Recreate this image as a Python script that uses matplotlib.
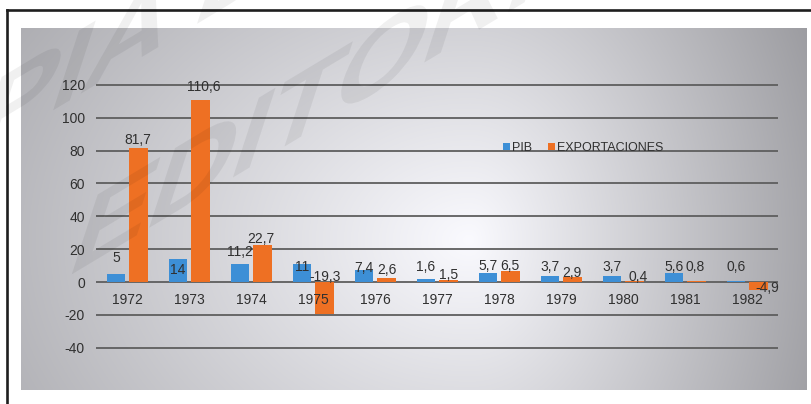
import numpy as np
import matplotlib
matplotlib.use("Agg")
import matplotlib.pyplot as plt
from matplotlib.patches import Patch, PathPatch
from matplotlib.lines import Line2D
from matplotlib.textpath import TextPath
from matplotlib.font_manager import FontProperties
from matplotlib.transforms import Affine2D, IdentityTransform

# ---- data ----
years = ["1972", "1973", "1974", "1975", "1976", "1977",
         "1978", "1979", "1980", "1981", "1982"]
pib = [5, 14, 11.2, 11, 7.4, 1.6, 5.7, 3.7, 3.7, 5.6, 0.6]
exportaciones = [81.7, 110.6, 22.7, -19.3, 2.6, 1.5, 6.5, 2.9, 0.4, 0.8, -4.9]
y_ticks = [-40, -20, 0, 20, 40, 60, 80, 100, 120]

# data-label anchor heights (axis units) and small horizontal nudges
pib_label_y = [14.6, 7.3, 18.5, 9.0, 8.5, 9.3, 9.7, 9.3, 9.3, 9.3, 9.3]
exp_label_y = [86.5, 119.0, 26.2, 3.2, 7.3, 4.3, 9.7, 5.7, 3.2, 9.3, -3.8]
exp_label_dx = [-0.02, 0.05, -0.03, 0.0, 0.01, -0.01, -0.01, -0.02, 0.05, -0.03, 0.14]

W, H = 811, 404
BLUE = "#3d8fd6"
ORANGE = "#ee7023"
TXT = "#303030"
FONT = "Liberation Sans"
FS = 10

plt.rcParams["font.family"] = [FONT, "DejaVu Sans"]

fig = plt.figure(figsize=(W / 100, H / 100), dpi=100)
fig.patch.set_facecolor("white")


def fr(x0, y0_top, x1, y1_top):
    """pixel box (top-left origin) -> figure fraction rect"""
    return [x0 / W, (H - y1_top) / H, (x1 - x0) / W, (y1_top - y0_top) / H]


# ---- gradient panel ----
px0, py0, px1, py1 = 21, 28, 807, 390
bg = fig.add_axes(fr(px0, py0, px1, py1))
xs = np.arange(px0, px1) + 0.5
ys = np.arange(py0, py1) + 0.5
X, Y = np.meshgrid(xs, ys)
cx, cy = 470.0, 240.0
dx = X - cx
rx = np.where(dx < 0, 560.0, 320.0)
t = np.sqrt((dx / rx) ** 2 + ((Y - cy) / 420.0) ** 2)
c = np.clip(250 - 80 * t, 155, 252) / 255.0
img = np.dstack([c, c, np.clip(c + 0.018, 0, 1)])
bg.imshow(img, aspect="auto", interpolation="bilinear")
bg.set_axis_off()

# ---- main chart axes ----
ppu = 1.642  # pixels per axis unit
y_zero = 282.0
ymin, ymax = -42, 122
ax = fig.add_axes(fr(96, y_zero - ymax * ppu, 778, y_zero - ymin * ppu))
ax.set_facecolor("none")
ax.set_xlim(-0.5, len(years) - 0.5)
ax.set_ylim(ymin, ymax)
for s in ax.spines.values():
    s.set_visible(False)
ax.set_yticks(y_ticks)
ax.set_yticklabels([str(v) for v in y_ticks])
ax.grid(axis="y", color="#5e5e5e", linewidth=1.3)
ax.set_axisbelow(True)
ax.set_xticks([])
ax.tick_params(axis="y", length=0, pad=8, labelsize=FS, labelcolor=TXT)

idx = np.arange(len(years))
bw = 0.30
off_b, off_o = -0.18, 0.19
ax.bar(idx + off_b, pib, width=bw, color=BLUE, zorder=3)
ax.bar(idx + off_o, exportaciones, width=bw, color=ORANGE, zorder=3)


def fmt(v):
    s = f"{v:g}"
    return s.replace(".", ",")


for i in idx:
    ax.text(i + off_b, pib_label_y[i], fmt(pib[i]), ha="center", va="center",
            fontsize=FS, color=TXT, zorder=5)
    ax.text(i + off_o + exp_label_dx[i], exp_label_y[i], fmt(exportaciones[i]),
            ha="center", va="center", fontsize=FS, color=TXT, zorder=5)
    ax.annotate(years[i], (i, 0), xytext=(0, -13), textcoords="offset points",
                ha="center", va="center", fontsize=FS, color=TXT, zorder=5)

handles = [Patch(facecolor=BLUE, edgecolor="none"),
           Patch(facecolor=ORANGE, edgecolor="none")]
fig.legend(handles, ["PIB", "EXPORTACIONES"], loc="center",
           bbox_to_anchor=(583 / W, (H - 148) / H), ncol=2, frameon=False,
           fontsize=9, labelcolor=TXT, handlelength=0.55, handleheight=0.55,
           handletextpad=0.15, columnspacing=1.3, borderpad=0, borderaxespad=0)

# ---- frame lines ----
fig.add_artist(Line2D([7 / W, 1.0], [(H - 10) / H] * 2, color="#1e1e1e",
                      linewidth=1.9, transform=fig.transFigure))
fig.add_artist(Line2D([7 / W] * 2, [0, (H - 10) / H], color="#1e1e1e",
                      linewidth=1.9, transform=fig.transFigure))

# ---- watermark ----
wm_font = FontProperties(family=FONT, weight="bold")
for word, (tx, ty) in [("COPIA DE", (-206, 138)), ("EDITORIAL", (64, 125))]:
    path = TextPath((0, 0), word, size=116, prop=wm_font)
    tr = Affine2D().skew_deg(18, 31).translate(tx, ty) + IdentityTransform()
    fig.add_artist(PathPatch(path, facecolor="black", edgecolor="none",
                             alpha=0.06, transform=tr, zorder=10))

fig.savefig("out.png", dpi=100)
